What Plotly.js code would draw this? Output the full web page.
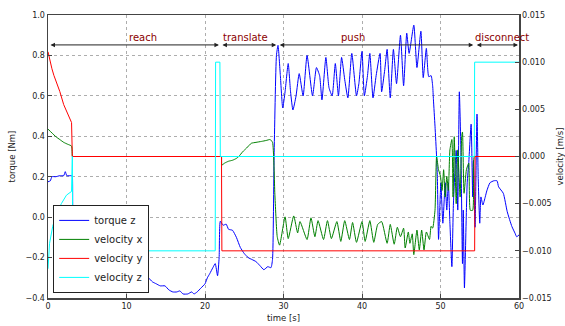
<!DOCTYPE html>
<html>
<head>
<meta charset="utf-8">
<script src="https://cdn.plot.ly/plotly-3.0.1.min.js"></script>
<style>html,body{margin:0;padding:0;background:#fff;}#chart{width:565px;height:326px;}</style>
</head>
<body>
<div id="chart"></div>
<script>
// torque z (left axis, Nm)
const tTorque = [0,0.3,0.5,1.0,1.5,2.0,2.2,2.4,3.0,3.1,3.25,3.6,3.9,4.2,4.5,5.0,5.5,6.0,6.5,7.0,7.5,8.0,8.1,8.6,9.2,9.8,10.2,10.6,11.0,11.4,11.8,12.3,12.8,13.3,13.8,14.3,14.9,15.4,15.9,16.4,16.8,17.2,17.8,18.3,18.6,19.0,19.5,20.0,20.3,20.6,21.0,21.3,21.6,21.8,21.95,22.3,22.7,23.0,23.5,24.0,24.5,25.0,25.5,26.0,26.5,27.0,27.5,28.0,28.4,28.6,28.8,29.1,29.3,29.6,29.9,30.2,30.6,30.9,31.2,31.6,32.0,32.5,33.0,33.7,34.2,34.6,34.9,35.4,35.8,36.2,36.6,37.0,37.4,37.8,38.2,38.7,39.3,39.6,40.0,40.3,40.7,41.0,41.4,41.8,42.3,42.5,42.9,43.2,43.6,44.0,44.4,44.9,45.3,45.7,46.0,46.6,47.0,47.5,47.8,48.2,48.5,48.8,49.0,49.1,49.3,49.5,49.6,49.75,49.9,50.05,50.3,50.6,50.8,51.0,51.2,51.45,51.65,52.0,52.2,52.4,52.6,52.8,52.9,53.05,53.3,53.4,53.6,53.9,54.1,54.2,54.4,54.65,54.8,55.0,55.15,55.4,55.7,55.9,56.3,56.8,57.2,57.4,58.0,58.5,59.1,59.5,59.7,60.0];
const torqueZ = [0.175,0.18,0.20,0.20,0.205,0.205,0.225,0.205,0.205,0.20,-0.005,0.0,0.02,0.03,0.015,0.015,0.015,-0.005,-0.005,0.01,-0.005,-0.005,-0.05,-0.09,-0.14,-0.19,-0.20,-0.22,-0.25,-0.24,-0.27,-0.28,-0.30,-0.32,-0.33,-0.34,-0.34,-0.36,-0.37,-0.37,-0.365,-0.38,-0.38,-0.37,-0.38,-0.37,-0.35,-0.33,-0.30,-0.28,-0.25,-0.23,-0.29,-0.20,-0.02,-0.04,-0.035,-0.06,-0.065,-0.10,-0.15,-0.18,-0.20,-0.21,-0.22,-0.24,-0.26,-0.245,-0.25,-0.21,0.30,0.80,0.85,0.70,0.54,0.62,0.76,0.62,0.53,0.60,0.71,0.60,0.80,0.60,0.74,0.70,0.58,0.79,0.64,0.60,0.76,0.60,0.79,0.68,0.59,0.81,0.60,0.66,0.82,0.60,0.70,0.81,0.59,0.70,0.81,0.62,0.73,0.83,0.59,0.83,0.66,0.90,0.65,0.91,0.81,0.95,0.74,0.92,0.69,0.835,0.695,0.70,0.65,0.58,0.45,0.30,0.20,-0.11,0.035,0.17,-0.03,0.17,0.035,0.17,-0.03,-0.245,0.07,0.33,0.035,0.62,0.33,-0.23,0.035,-0.35,0.035,0.17,0.27,0.46,0.10,0.28,-0.05,0.51,0.20,-0.03,0.10,0.06,0.10,0.13,0.17,0.18,0.18,0.15,0.118,0.027,-0.047,-0.08,-0.097,-0.088];

// velocity x (right axis, m/s)
const tVelX = [0,0.5,1.0,1.5,2.0,2.5,3.0,3.1,3.15,22.05,22.1,22.15,22.5,23.0,23.5,24.0,24.3,24.8,25.3,25.9,26.5,27.2,27.8,28.3,28.6,28.9,29.2,29.5,30.2,30.6,31.3,31.8,32.1,33.0,33.5,34.0,34.4,35.1,35.6,36.1,36.8,37.3,37.8,38.4,38.8,39.3,40.0,40.4,41.0,41.5,42.0,42.5,43.2,43.6,44.1,44.5,44.9,45.3,45.5,45.9,46.1,46.4,46.6,47.0,47.3,47.6,47.9,48.2,48.6,48.8,49.0,49.3,49.5,49.75,50.0,50.2,50.4,50.6,50.8,51.0,51.2,51.45,51.6,51.75,52.0,52.2,52.5,52.7,52.8,53.0,53.3,53.6,53.8,54.1,54.2,54.3,54.35,60];
const velX = [0.0029,0.0025,0.0021,0.0018,0.0015,0.0013,0.0011,0.0,0.0,0.0,0.0,-0.0009,-0.0007,-0.0005,-0.0004,-0.0002,0.0,0.0005,0.0009,0.0014,0.0015,0.0016,0.0017,0.0018,0.0015,-0.004,-0.0085,-0.0094,-0.0064,-0.0087,-0.0063,-0.0081,-0.0069,-0.0088,-0.0065,-0.0085,-0.0068,-0.0088,-0.0068,-0.0087,-0.0069,-0.0090,-0.0068,-0.0088,-0.0070,-0.0091,-0.0069,-0.0090,-0.0068,-0.0091,-0.0072,-0.0069,-0.0092,-0.0072,-0.0093,-0.0075,-0.0085,-0.0076,-0.0097,-0.0080,-0.0092,-0.0082,-0.0104,-0.0078,-0.0099,-0.0078,-0.0099,-0.0080,-0.0088,-0.0074,-0.0076,-0.0057,0.0,-0.0014,-0.0021,-0.0036,-0.0014,-0.0043,-0.0021,-0.0036,0.0007,0.0018,-0.0043,0.0021,-0.0050,0.0007,-0.0043,0.0021,0.0026,-0.0039,-0.0014,-0.0007,-0.0057,-0.0057,-0.0007,0.0,0.0,0.0];

// velocity y (right axis, m/s)
const tVelY = [0,0.25,0.5,0.75,1.0,1.5,2.0,2.5,3.0,3.1,22.1,22.15,54.35,54.4,60];
const velY = [0.0111,0.0101,0.0093,0.0086,0.0081,0.0069,0.0055,0.0045,0.0036,0.0,0.0,-0.0100,-0.0100,0.0,0.0];

// velocity z (right axis, m/s)
const tVelZ = [0,0.2,0.6,1.1,1.7,2.35,3.0,3.1,3.15,21.3,21.35,21.9,21.95,54.3,54.35,60];
const velZ = [-0.0119,-0.0092,-0.0074,-0.0060,-0.0050,-0.0041,-0.0037,0.0,-0.0100,-0.0100,0.0100,0.0100,0.0,0.0,0.0100,0.0100];

// phases
const phaseNames = ["reach","translate","push","disconnect"];
const phaseStart = [0,21.9,29.2,54.3];
const phaseEnd = [21.9,29.2,54.3,60];
const phaseLabelX = [10.0,22.1,37.1,54.1];

const traces = [
  {x:tTorque,y:torqueZ,name:"torque z",type:"scatter",mode:"lines",line:{color:"#0000ff",width:1,shape:"spline",smoothing:0.5},yaxis:"y"},
  {x:tVelX,y:velX,name:"velocity x",type:"scatter",mode:"lines",line:{color:"#008000",width:1,shape:"spline",smoothing:0.5},yaxis:"y2"},
  {x:tVelY,y:velY,name:"velocity y",type:"scatter",mode:"lines",line:{color:"#ff0000",width:1},yaxis:"y2"},
  {x:tVelZ,y:velZ,name:"velocity z",type:"scatter",mode:"lines",line:{color:"#00ffff",width:1},yaxis:"y2"}
];

const annotations = [];
for (let i=0;i<phaseNames.length;i++){
  annotations.push({x:phaseEnd[i],y:0.852,ax:phaseStart[i],ay:0.852,xref:"x",yref:"y",axref:"x",ayref:"y",
    text:"",showarrow:true,arrowside:"end+start",arrowhead:2,arrowsize:0.9,arrowwidth:1,arrowcolor:"#222",standoff:1,startstandoff:1});
  annotations.push({x:phaseLabelX[i],y:0.889,xref:"x",yref:"y",text:phaseNames[i],showarrow:false,
    xanchor:"left",yanchor:"middle",font:{family:"DejaVu Sans",size:10,color:"#8b0000"}});
}

const axisCommon = {showline:true,linecolor:"#444",linewidth:1.5,mirror:true,ticks:"inside",ticklen:4,tickcolor:"#444",
  tickfont:{family:"DejaVu Sans",size:8,color:"#222"},zeroline:false};

const layout = {
  width:565,height:326,
  margin:{l:48,r:46,t:15,b:28,pad:0},
  paper_bgcolor:"#fff",plot_bgcolor:"#fff",
  font:{family:"DejaVu Sans",size:8,color:"#222"},
  showlegend:true,
  legend:{x:0.011,y:0.018,xanchor:"left",yanchor:"bottom",bgcolor:"#fff",bordercolor:"#222",borderwidth:1,itemwidth:30,
    font:{family:"DejaVu Sans",size:10,color:"#222"},tracegroupgap:0},
  xaxis:Object.assign({},axisCommon,{range:[0,60],tickvals:[0,10,20,30,40,50,60],showgrid:true,gridcolor:"#999",griddash:"dot",gridwidth:0.8,
    title:{text:"time [s]",font:{family:"DejaVu Sans",size:8.5,color:"#222"},standoff:5}}),
  yaxis:Object.assign({},axisCommon,{range:[-0.4,1.0],dtick:0.2,tick0:0,tickformat:".1f",showgrid:true,gridcolor:"#999",griddash:"dot",gridwidth:0.8,
    title:{text:"torque [Nm]",font:{family:"DejaVu Sans",size:8.5,color:"#222"},standoff:8}}),
  yaxis2:Object.assign({},axisCommon,{range:[-0.015,0.015],dtick:0.005,tick0:0,tickformat:".3f",overlaying:"y",side:"right",showgrid:false,mirror:false,
    title:{text:"velocity [m/s]",font:{family:"DejaVu Sans",size:8.5,color:"#222"},standoff:8}}),
  annotations:annotations
};

Plotly.newPlot("chart",traces,layout,{displayModeBar:false,staticPlot:true});
</script>
</body>
</html>
